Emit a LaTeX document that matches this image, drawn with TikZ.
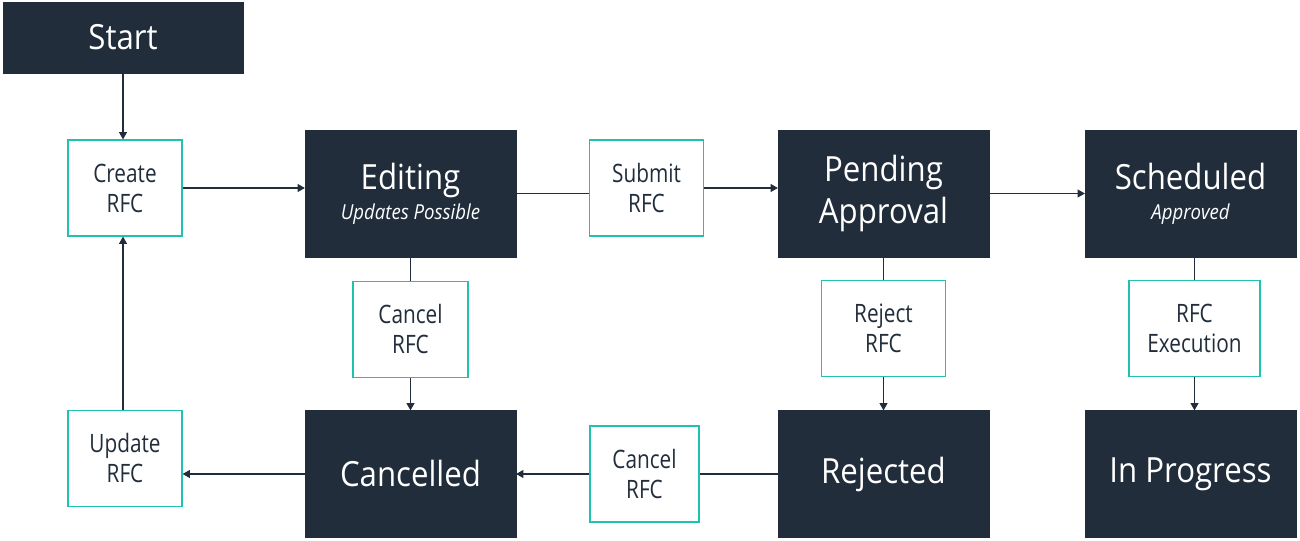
\documentclass[tikz,border=0pt]{standalone}
\usepackage{fontspec}
\setmainfont{Open Sans}
\newfontfamily\bigfont[FakeStretch=0.9]{Open Sans}
\newfontfamily\smallfont[FakeStretch=0.82]{Open Sans}
\usetikzlibrary{arrows.meta,positioning}
\definecolor{awsdark}{HTML}{212D3B}
\definecolor{awsteal}{HTML}{1FC1B1}
\newcommand{\subtitle}[1]{{\fontsize{15.5}{17}\selectfont\itshape #1}}

\begin{document}
\begin{tikzpicture}[x=0.75pt,y=-0.75pt,
	state/.style={fill=awsdark,draw=awsdark,text=white,align=center,
		minimum width=158pt,minimum height=95pt,inner sep=0pt,
		font=\bigfont\fontsize{26}{31.5}\selectfont},
	action/.style={draw=awsteal,line width=0.9pt,fill=white,text=awsdark,align=center,
		minimum width=85.5pt,minimum height=72pt,inner sep=0pt,
		font=\smallfont\fontsize{19}{22.5}\selectfont},
	flow/.style={draw=awsdark,line width=0.8pt,-{Triangle[length=5.5pt,width=6pt]}},
	link/.style={draw=awsdark,line width=0.8pt}]
	\useasboundingbox (0,0) rectangle (1300,541);
	% states
	\node[state,minimum width=180pt,minimum height=53pt] (start) at (123,37.5) {Start};
	\node[state] (editing) at (410.5,193.5) {Editing\\[-9pt]\subtitle{Updates Possible}};
	\node[state] (pending) at (883.5,193.5) {Pending\\Approval};
	\node[state] (scheduled) at (1190.5,193.5) {Scheduled\\[-9pt]\subtitle{Approved}};
	\node[state] (cancelled) at (410.5,474) {Cancelled};
	\node[state] (rejected) at (883.5,474) {Rejected};
	\node[state] (inprogress) at (1190.5,474) {In Progress};
	% actions
	\node[action] (create) at (125,188) {Create\\RFC};
	\node[action] (submit) at (646.5,188) {Submit\\RFC};
	\node[action,minimum width=86.25pt] (cancelA) at (410.5,329.5) {Cancel\\RFC};
	\node[action,minimum width=93pt] (reject) at (883.5,328.5) {Reject\\RFC};
	\node[action,minimum width=98.25pt] (execute) at (1194.5,328.5) {RFC\\Execution};
	\node[action] (update) at (125,458.5) {Update\\RFC};
	\node[action,minimum width=81.75pt] (cancelB) at (644.5,474) {Cancel\\RFC};
	% connectors
	\draw[flow] (start.south) -- (start.south |- create.north);
	\draw[flow] (create.east) -- (create.east -| editing.west);
	\draw[link] (editing.east) -- (editing.east -| submit.west);
	\draw[flow] (submit.east) -- (submit.east -| pending.west);
	\draw[flow] (pending) -- (scheduled);
	\draw[link] (editing) -- (cancelA);
	\draw[flow] (cancelA) -- (cancelled);
	\draw[link] (pending) -- (reject);
	\draw[flow] (reject) -- (rejected);
	\draw[link] (scheduled.south -| execute) -- (execute);
	\draw[flow] (execute.south) -- (execute.south |- inprogress.north);
	\draw[link] (rejected) -- (cancelB);
	\draw[flow] (cancelB) -- (cancelled);
	\draw[flow] (cancelled.west) -- (cancelled.west -| update.east);
	\draw[flow] (update.north -| start) -- (create.south -| start);
\end{tikzpicture}
\end{document}
